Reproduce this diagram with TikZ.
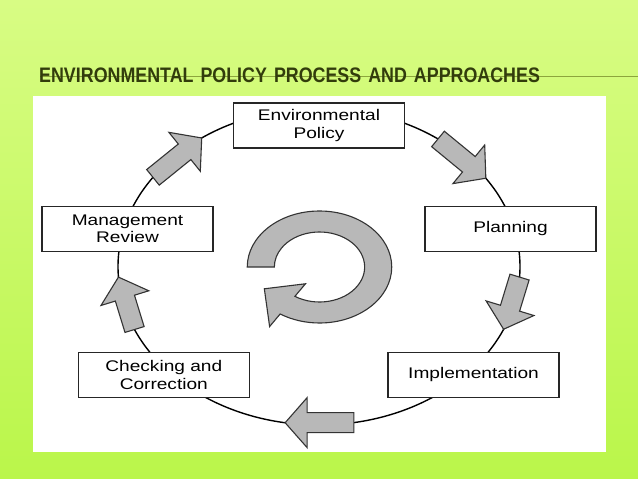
\documentclass[tikz,border=0pt]{standalone}
\usepackage{fontspec}
\newfontfamily\titlefont[FakeStretch=0.85]{Liberation Sans}
\newfontfamily\boxfont[FakeStretch=1.24]{Liberation Sans}
\usetikzlibrary{calc}

\definecolor{bgtop}{RGB}{216,252,132}
\definecolor{bgbot}{RGB}{186,246,74}
\definecolor{titlegreen}{RGB}{50,60,12}
\definecolor{titleline}{RGB}{140,165,60}
\definecolor{arrowgray}{RGB}{184,184,184}

\begin{document}
\begin{tikzpicture}[x=1pt,y=-1pt]
			\useasboundingbox (0,0) rectangle (638,479);
			\shade[top color=bgtop, bottom color=bgbot] (0,0) rectangle (638,479);
			\draw[titleline, line width=0.6pt] (40,76) -- (638,76);
			\node(title)[anchor=base west, inner sep=0pt, text=titlegreen,
				font=\titlefont\bfseries\fontsize{21pt}{25pt}\selectfont] at (39,82)
				{\spaceskip=7pt ENVIRONMENTAL POLICY PROCESS AND APPROACHES};
			\fill[white] (32.5,96) rectangle (605.5,452);
			\draw[line width=1.4pt] (319,266.6) ellipse [x radius=201, y radius=158.4];
			\begin{scope}
				[
					stepbox/.style={
						draw=black!85, line width=1.2pt, fill=white,
						minimum width=171pt, minimum height=45pt,
						inner sep=0pt, align=center,
						font=\boxfont\fontsize{15.4pt}{17.5pt}\selectfont
						},
				]
				\node(policy)[stepbox] at (319,125.5) {Environmental\\Policy};
				\node(planning)[stepbox] at (510.5,229) {Planning};
				\node(implement)[stepbox] at (473.5,375) {Implementation};
				\node(checking)[stepbox] at (163.8,375) {Checking and\\Correction};
				\node(review)[stepbox] at (127.5,229) {Management\\Review};
			\end{scope}
			\begin{scope}
				[ flow/.style={draw=black!80, line width=1.1pt, fill=arrowgray, line join=miter} ]
				\foreach \i/\s/\e in {1/145.7/125.7, 2/53.7/33.9, 3/-3.8/-23.3, 4/-80/-99.7, 5/203.4/183.8}
				{
					\coordinate (tail\i) at ({319+201*cos(\s)},{266.6-158.4*sin(\s)});
					\coordinate (tip\i) at ({319+201*cos(\e)},{266.6-158.4*sin(\e)});
					\coordinate (head\i) at ($(tip\i)!22pt!(tail\i)$);
					\draw[flow] ($(tail\i)!10pt!90:(tip\i)$) -- ($(head\i)!10pt!90:(tip\i)$)
						-- ($(head\i)!25pt!90:(tip\i)$) -- (tip\i)
						-- ($(head\i)!25pt!-90:(tip\i)$) -- ($(head\i)!10pt!-90:(tip\i)$)
						-- ($(tail\i)!10pt!-90:(tip\i)$) -- cycle;
				}
				\begin{scope}[shift={(319.5,267)}, xscale=1.29]
					\draw[flow] (180:56) arc[start angle=180, end angle=483, radius=56]
						-- (483:71) -- (153:48) -- (483:20) -- (483:35)
						arc[start angle=483, end angle=180, radius=35] -- cycle;
				\end{scope}
			\end{scope}
		\end{tikzpicture}
\end{document}
